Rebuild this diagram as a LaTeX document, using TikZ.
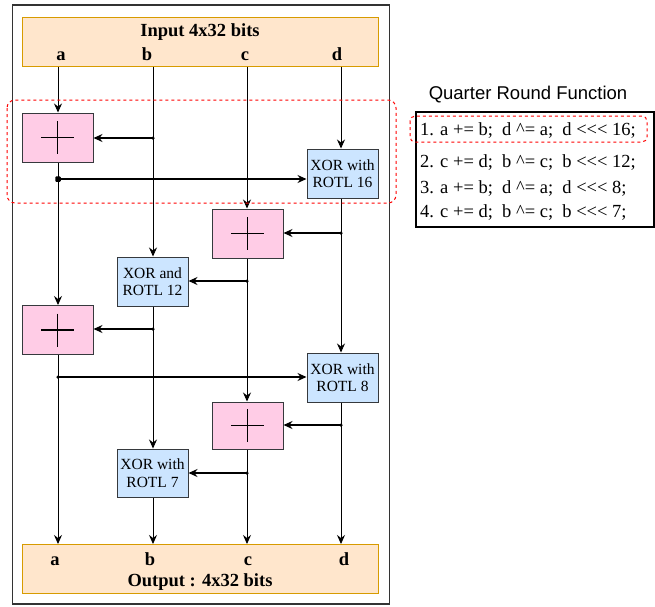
\documentclass[tikz,border=0pt]{standalone}
\usepackage{fontspec}
\setmainfont{Liberation Serif}
\newfontfamily\sansf{Liberation Sans}
\usetikzlibrary{arrows.meta}
\definecolor{inpfill}{HTML}{FFE6CC}
\definecolor{inpdraw}{HTML}{D79B00}
\definecolor{addfill}{HTML}{FFCCE6}
\definecolor{xorfill}{HTML}{CCE5FF}
\definecolor{boxdraw}{HTML}{36393D}
\definecolor{framec}{HTML}{333333}
\newcommand{\lll}{<\kern0pt<\kern0pt<}
\begin{document}
\begin{tikzpicture}[x=1pt,y=-1pt,
  iobox/.style={draw=inpdraw,fill=inpfill,line width=1pt,minimum width=356pt,minimum height=49pt,inner sep=0pt},
  addbox/.style={draw=boxdraw,fill=addfill,line width=1pt,minimum width=71pt,minimum height=49pt,inner sep=0pt},
  xorbox/.style={draw=boxdraw,fill=xorfill,line width=1pt,minimum width=71pt,minimum height=49pt,inner sep=0pt,align=center,font=\fontsize{15.5}{17.5}\selectfont},
  tip/.style={-{Stealth[length=9pt,width=8pt,inset=3pt]}},
  vline/.style={line width=0.9pt,tip},
  hline/.style={line width=1.6pt,tip},
  dot/.style={circle,fill=black,inner sep=0pt,minimum size=3.5pt},
  sqdot/.style={rectangle,rounded corners=1pt,fill=black,inner sep=0pt,minimum size=5.5pt},
  lab/.style={font=\bfseries\fontsize{18.5}{20}\selectfont,inner sep=0pt},
  tabtxt/.style={font=\fontsize{18.5}{20}\selectfont,inner sep=0pt,anchor=base west},
  redbox/.style={draw=red,dash pattern=on 3pt off 3pt,line width=1pt,rounded corners=8pt},
  plus/.style={line width=1.2pt}]
\useasboundingbox (0,0) rectangle (655,606);

% outer frame
\draw[framec,line width=1.3pt] (12.5,5) rectangle (389.5,604);

% input and output boxes
\node[iobox] (inp) at (200,41.5) {};
\node[iobox] (out) at (200,569) {};
\node[lab] (inptitle) at (200,32) {Input 4x32 bits};
\node[lab] (outtitle) at (200,582) {Output : 4x32 bits};
\node[lab,anchor=base] (ia) at (61,60) {a};
\node[lab,anchor=base] (ib) at (147,60) {b};
\node[lab,anchor=base] (ic) at (245,60) {c};
\node[lab,anchor=base] (id) at (337,60) {d};
\node[lab,anchor=base] (oa) at (55,565) {a};
\node[lab,anchor=base] (ob) at (150,565) {b};
\node[lab,anchor=base] (oc) at (248,565) {c};
\node[lab,anchor=base] (od) at (344,565) {d};

% adders
\node[addbox] (add1) at (57.5,137.5) {};
\node[addbox] (add2) at (247.5,233.5) {};
\node[addbox] (add3) at (57.5,330) {};
\node[addbox,minimum height=47pt] (add4) at (247.5,425.5) {};
\foreach \n in {add1,add2,add3,add4}{
  \draw[plus] (\n.center) +(-16.5,0) -- +(16.5,0);
  \draw[plus] (\n.center) +(0,-16.5) -- +(0,16.5);
}

% xor boxes
\node[xorbox] (x16) at (342.5,173.5) {XOR with\\ROTL 16};
\node[xorbox] (x12) at (152.5,281.5) {XOR and\\ROTL 12};
\node[xorbox] (x8) at (342.5,377.5) {XOR with\\ROTL 8};
\node[xorbox,minimum height=48pt] (x7) at (152.5,473) {XOR with\\ROTL 7};

% junctions
\coordinate (jb1) at (153,138);
\coordinate (ja1) at (58,179);
\coordinate (jd1) at (341,233);
\coordinate (jc1) at (247,281);
\coordinate (jb2) at (153,329);
\coordinate (ja2) at (58,377);
\coordinate (jd2) at (341,425);
\coordinate (jc2) at (247,473);

% vertical flows
\draw[vline] (inp.south -| ja1) -- (add1.north -| ja1);
\draw[vline] (inp.south -| jb1) -- (x12.north -| jb1);
\draw[vline] (inp.south -| jc1) -- (add2.north -| jc1);
\draw[vline] (inp.south -| jd1) -- (x16.north -| jd1);
\draw[vline] (add1.south -| ja1) -- (add3.north -| ja1);
\draw[vline] (x16.south -| jd1) -- (x8.north -| jd1);
\draw[vline] (add2.south -| jc1) -- (add4.north -| jc1);
\draw[vline] (x12.south -| jb1) -- (x7.north -| jb1);
\draw[vline] (add3.south -| ja1) -- (out.north -| ja1);
\draw[vline] (x8.south -| jd1) -- (out.north -| jd1);
\draw[vline] (add4.south -| jc1) -- (out.north -| jc1);
\draw[vline] (x7.south -| jb1) -- (out.north -| jb1);

% horizontal flows
\draw[hline] (jb1) -- (add1.east |- jb1);
\draw[hline] (ja1) -- (x16.west |- ja1);
\draw[hline] (jd1) -- (add2.east |- jd1);
\draw[hline] (jc1) -- (x12.east |- jc1);
\draw[hline] (jb2) -- (add3.east |- jb2);
\draw[hline] (ja2) -- (x8.west |- ja2);
\draw[hline] (jd2) -- (add4.east |- jd2);
\draw[hline] (jc2) -- (x7.east |- jc2);

\node[sqdot] (dja1) at (ja1) {};
\foreach \j in {jb1,jd1,jc1,jb2,ja2,jd2,jc2}{\node[dot] (d\j) at (\j) {};}

% red dashed highlight around step 1
\draw[redbox] (7,100) rectangle (396,203);

% table
\node[font=\sansf\fontsize{18.5}{20}\selectfont,inner sep=0pt] (ttitle) at (528,95) {Quarter Round Function};
\draw[black,line width=1.2pt] (416,112) rectangle (654,227);
\node[tabtxt] (t1) at (420,135) {1. a += b;\ \ d \textasciicircum= a;\ \ d \lll{} 16;};
\node[tabtxt] (t2) at (420,167) {2. c += d;\ \ b \textasciicircum= c;\ \ b \lll{} 12;};
\node[tabtxt] (t3) at (420,193) {3. a += b;\ \ d \textasciicircum= a;\ \ d \lll{} 8;};
\node[tabtxt] (t4) at (420,217) {4. c += d;\ \ b \textasciicircum= c;\ \ b \lll{} 7;};
\draw[redbox,rounded corners=5pt] (410,116) rectangle (647,142);
\end{tikzpicture}
\end{document}
